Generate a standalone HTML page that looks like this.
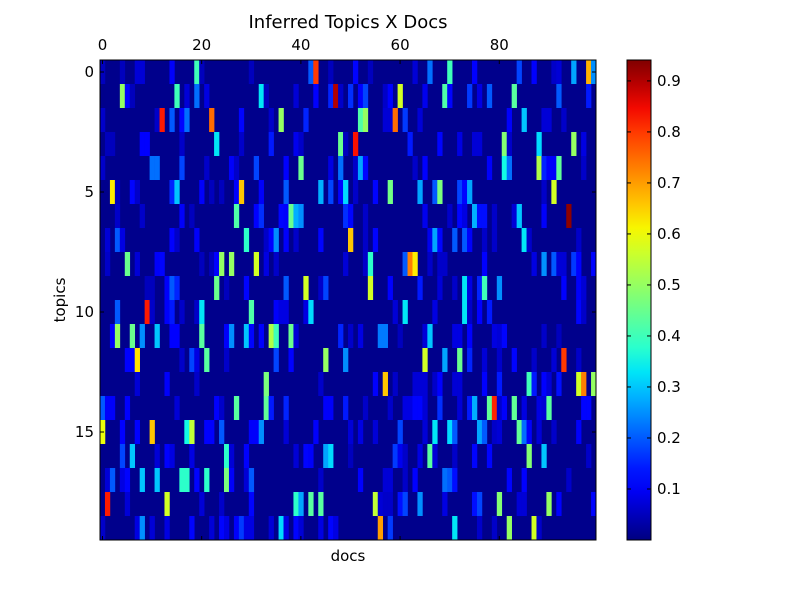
<!DOCTYPE html>
<html><head><meta charset="utf-8"><style>
body{margin:0;background:#fff;}
svg text{font-family:"DejaVu Sans","Liberation Sans",sans-serif;fill:#000;}
</style></head><body>
<svg id="chart" width="800" height="600" xmlns="http://www.w3.org/2000/svg">
<rect width="800" height="600" fill="#fff"/>
<defs><linearGradient id="jet" x1="0" y1="1" x2="0" y2="0"></linearGradient></defs>
<g id="cells"></g>
<g id="axes"></g>
</svg>
<script>
const topicCount = 20;
const docCount = 100;
const baseValue = 0.01;
const xTickValues = [0, 20, 40, 60, 80];
const yTickValues = [0, 5, 10, 15];
const cbTickValues = [0.1, 0.2, 0.3, 0.4, 0.5, 0.6, 0.7, 0.8, 0.9];
// sparse cells per topic: [doc, value]
const topicRows = [
 [[0,.05],[4,.05],[7,.07],[8,.07],[14,.1],[19,.4],[20,.05],[30,.05],[42,.2],[43,.8],[46,.05],[51,.12],[54,.05],[63,.07],[66,.22],[70,.4],[75,.11],[84,.18],[87,.11],[91,.06],[92,.07],[95,.27],[98,.68],[99,.25]],
 [[4,.5],[5,.12],[6,.05],[15,.4],[17,.07],[19,.22],[21,.08],[32,.33],[33,.05],[39,.07],[43,.11],[46,.15],[47,.9],[48,.06],[50,.16],[52,.11],[53,.18],[57,.06],[58,.11],[60,.57],[65,.09],[69,.42],[70,.12],[74,.17],[76,.08],[78,.2],[83,.43],[92,.2],[98,.14]],
 [[0,.06],[11,.06],[12,.83],[14,.2],[16,.12],[17,.22],[22,.75],[28,.12],[34,.06],[36,.5],[41,.15],[52,.42],[53,.5],[57,.07],[58,.07],[59,.75],[61,.17],[64,.07],[82,.1],[85,.3],[89,.07],[90,.07],[93,.06]],
 [[1,.05],[2,.05],[8,.11],[9,.11],[16,.06],[23,.33],[28,.06],[34,.14],[39,.09],[40,.06],[48,.45],[49,.05],[51,.84],[62,.14],[68,.12],[72,.08],[75,.07],[76,.07],[81,.48],[82,.06],[88,.32],[95,.5],[97,.08]],
 [[0,.06],[10,.22],[11,.22],[16,.18],[21,.06],[26,.1],[27,.06],[31,.18],[37,.11],[40,.45],[46,.08],[48,.22],[51,.06],[52,.27],[53,.12],[63,.06],[65,.11],[78,.1],[81,.35],[82,.22],[88,.53],[89,.15],[90,.1],[91,.1],[92,.44],[97,.06]],
 [[2,.62],[3,.05],[6,.12],[7,.06],[14,.15],[15,.3],[20,.1],[22,.05],[24,.05],[27,.1],[28,.66],[32,.1],[37,.2],[44,.28],[46,.18],[48,.12],[49,.32],[51,.06],[55,.12],[58,.46],[64,.27],[67,.2],[68,.47],[72,.18],[73,.12],[74,.27],[89,.06],[91,.57]],
 [[3,.06],[8,.06],[16,.1],[18,.05],[27,.42],[31,.11],[32,.16],[36,.12],[37,.1],[38,.45],[39,.28],[40,.25],[49,.16],[50,.12],[53,.06],[65,.09],[70,.06],[72,.12],[73,.08],[75,.28],[76,.13],[77,.13],[79,.06],[83,.07],[84,.3],[89,.1],[94,.93]],
 [[1,.07],[3,.2],[4,.08],[14,.11],[15,.06],[19,.1],[29,.38],[33,.06],[34,.11],[35,.25],[37,.1],[39,.06],[44,.12],[50,.66],[53,.06],[55,.12],[66,.09],[67,.27],[68,.12],[71,.2],[73,.2],[74,.1],[77,.06],[79,.06],[85,.33],[86,.06],[96,.06]],
 [[1,.06],[5,.45],[7,.07],[11,.1],[12,.12],[20,.05],[22,.05],[23,.11],[24,.5],[26,.5],[31,.57],[33,.08],[35,.06],[49,.07],[53,.06],[54,.38],[61,.2],[62,.73],[63,.62],[66,.06],[68,.06],[69,.06],[77,.11],[87,.08],[89,.25],[91,.2],[92,.07],[93,.07],[95,.17],[96,.11],[99,.12]],
 [[9,.05],[10,.05],[13,.1],[14,.2],[15,.15],[23,.45],[25,.05],[29,.12],[37,.2],[41,.57],[44,.06],[45,.18],[54,.57],[58,.11],[64,.14],[68,.07],[71,.06],[73,.33],[74,.08],[76,.15],[77,.4],[80,.25],[93,.11],[96,.1],[97,.07]],
 [[3,.2],[9,.83],[10,.06],[13,.1],[14,.14],[16,.06],[19,.06],[20,.33],[30,.42],[35,.1],[36,.08],[37,.08],[41,.08],[42,.32],[59,.07],[61,.33],[67,.08],[73,.33],[74,.06],[76,.11],[78,.14],[96,.12],[97,.06]],
 [[2,.1],[3,.5],[6,.45],[8,.25],[11,.3],[14,.11],[15,.11],[20,.43],[25,.1],[26,.25],[29,.3],[30,.12],[32,.11],[34,.53],[35,.4],[38,.45],[39,.07],[48,.15],[50,.06],[52,.08],[56,.23],[57,.23],[60,.05],[65,.07],[66,.3],[71,.08],[72,.08],[74,.11],[79,.08],[80,.07],[81,.12],[89,.06],[92,.05]],
 [[5,.11],[6,.12],[7,.63],[16,.06],[18,.18],[19,.08],[21,.43],[25,.06],[35,.18],[38,.11],[45,.5],[49,.25],[65,.57],[69,.27],[72,.45],[74,.15],[77,.07],[80,.06],[83,.12],[87,.06],[91,.07],[93,.8],[96,.06]],
 [[7,.07],[13,.1],[19,.06],[33,.47],[44,.06],[55,.11],[57,.66],[59,.06],[63,.07],[64,.07],[65,.07],[67,.06],[68,.11],[71,.07],[72,.07],[77,.11],[80,.14],[86,.4],[87,.14],[89,.11],[90,.07],[92,.13],[96,.57],[97,.73],[99,.5]],
 [[0,.2],[1,.1],[2,.1],[5,.11],[15,.07],[23,.11],[24,.06],[27,.43],[33,.44],[34,.14],[37,.15],[45,.1],[46,.1],[49,.14],[53,.06],[58,.06],[61,.08],[62,.08],[63,.12],[64,.12],[65,.07],[68,.16],[72,.07],[74,.14],[75,.28],[78,.44],[79,.82],[80,.06],[81,.1],[83,.44],[85,.08],[88,.08],[89,.07],[90,.43],[97,.12],[98,.12]],
 [[0,.6],[4,.11],[7,.11],[10,.66],[17,.35],[18,.55],[21,.11],[22,.11],[24,.2],[30,.1],[31,.1],[32,.25],[37,.07],[43,.1],[50,.07],[52,.08],[55,.07],[60,.18],[65,.07],[67,.33],[70,.32],[71,.2],[76,.27],[77,.2],[79,.06],[80,.07],[84,.44],[85,.22],[86,.1],[88,.07],[91,.06],[96,.1]],
 [[4,.18],[6,.3],[11,.07],[13,.11],[14,.08],[18,.08],[25,.38],[26,.07],[29,.11],[39,.07],[41,.12],[42,.1],[45,.27],[46,.32],[50,.05],[59,.17],[60,.09],[61,.06],[64,.08],[66,.43],[67,.07],[71,.06],[75,.12],[78,.12],[86,.48],[89,.3],[98,.06]],
 [[1,.07],[2,.2],[4,.08],[5,.12],[8,.3],[11,.3],[16,.38],[17,.38],[19,.12],[21,.38],[25,.47],[26,.1],[29,.07],[30,.2],[44,.06],[52,.11],[57,.07],[58,.07],[61,.06],[63,.11],[69,.22],[70,.2],[71,.13],[82,.12],[85,.11],[94,.06]],
 [[1,.83],[5,.07],[13,.57],[20,.07],[24,.06],[30,.12],[39,.38],[40,.27],[42,.43],[44,.43],[55,.55],[56,.07],[57,.06],[58,.06],[60,.13],[61,.18],[64,.25],[69,.08],[75,.13],[76,.18],[80,.48],[84,.07],[85,.07],[90,.5],[92,.11],[99,.12]],
 [[0,.06],[7,.08],[8,.25],[10,.07],[13,.08],[18,.12],[22,.07],[24,.12],[25,.08],[27,.1],[28,.17],[29,.08],[30,.08],[34,.07],[36,.32],[37,.08],[39,.12],[40,.07],[44,.08],[46,.12],[47,.08],[56,.7],[58,.17],[71,.33],[76,.06],[79,.06],[82,.5],[87,.57],[88,.06]]
];

const NS = "http://www.w3.org/2000/svg";
const PX0 = 100, PX1 = 596, PY0 = 60, PY1 = 540;
const VMIN = 0, VMAX = 0.941;
const CBX = 627, CBW = 24;
function xScale(doc){ return PX0 + (doc + 0.5) * (PX1 - PX0) / docCount; }
function yScale(t){ return PY0 + (t + 0.5) * (PY1 - PY0) / topicCount; }
function cbScale(v){ return PY1 - (v - VMIN) / (VMAX - VMIN) * (PY1 - PY0); }
function interp(pts, x){
  for (let i = 1; i < pts.length; i++) {
    if (x <= pts[i][0]) { const a = pts[i-1], b = pts[i]; return a[1] + (b[1]-a[1]) * (x-a[0]) / (b[0]-a[0]); }
  }
  return pts[pts.length-1][1];
}
function jet(t){
  t = Math.max(0, Math.min(1, t));
  const r = interp([[0,0],[0.35,0],[0.66,1],[0.89,1],[1,0.5]], t);
  const g = interp([[0,0],[0.125,0],[0.375,1],[0.64,1],[0.91,0],[1,0]], t);
  const b = interp([[0,0.5],[0.11,1],[0.34,1],[0.65,0],[1,0]], t);
  return "rgb(" + Math.round(r*255) + "," + Math.round(g*255) + "," + Math.round(b*255) + ")";
}
function colorOf(v){ return jet((v - VMIN) / (VMAX - VMIN)); }
function mk(tag, attrs, parent){ const e = document.createElementNS(NS, tag); for (const k in attrs) e.setAttribute(k, attrs[k]); parent.appendChild(e); return e; }

const cellsG = document.getElementById("cells");
const axesG = document.getElementById("axes");
const cw = (PX1 - PX0) / docCount, ch = (PY1 - PY0) / topicCount;
const bg = mk("rect", {x:PX0, y:PY0, width:PX1-PX0, height:PY1-PY0, fill:colorOf(baseValue)}, cellsG);


topicRows.forEach((row, t) => {
  row.forEach(([d, v]) => {
    const r = mk("rect", {x:(xScale(d)-cw/2).toFixed(2), y:(yScale(t)-ch/2).toFixed(2), width:(cw+0.3).toFixed(2), height:ch, fill:colorOf(v)}, cellsG);
    
    
  });
});
const frame = mk("rect", {x:PX0, y:PY0, width:PX1-PX0, height:PY1-PY0, fill:"none", stroke:"#000", "stroke-width":1}, axesG);


xTickValues.forEach(v => {
  const x = xScale(v);
  mk("line", {x1:x, y1:PY0, x2:x, y2:PY0+4, stroke:"#000"}, axesG);
  mk("line", {x1:x, y1:PY1, x2:x, y2:PY1-4, stroke:"#000"}, axesG);
  const tx = mk("text", {x:x, y:50, "font-size":15, "text-anchor":"middle"}, axesG);
  tx.textContent = v;
  
  
});
yTickValues.forEach(v => {
  const y = yScale(v);
  mk("line", {x1:PX0, y1:y, x2:PX0+4, y2:y, stroke:"#000"}, axesG);
  mk("line", {x1:PX1, y1:y, x2:PX1-4, y2:y, stroke:"#000"}, axesG);
  const tx = mk("text", {x:94, y:y+5, "font-size":15, "text-anchor":"end"}, axesG);
  tx.textContent = v;
  
  
});
const grad = document.getElementById("jet");
for (let i = 0; i <= 20; i++) mk("stop", {offset:(i/20), "stop-color":jet(i/20)}, grad);
const cb = mk("rect", {x:CBX, y:PY0, width:CBW, height:PY1-PY0, fill:"url(#jet)", stroke:"#000"}, axesG);


cbTickValues.forEach(v => {
  const y = cbScale(v);
  mk("line", {x1:CBX, y1:y, x2:CBX+4, y2:y, stroke:"#000"}, axesG);
  mk("line", {x1:CBX+CBW, y1:y, x2:CBX+CBW-4, y2:y, stroke:"#000"}, axesG);
  const tx = mk("text", {x:CBX+CBW+6, y:y+5, "font-size":15}, axesG);
  tx.textContent = v.toFixed(1);
  
  
});
</script>
<svg style="position:absolute;left:0;top:0" width="800" height="600">
<text x="348" y="28" font-size="18" text-anchor="middle">Inferred Topics X Docs</text>
<text x="348" y="561" font-size="15" text-anchor="middle">docs</text>
<text x="65" y="300" font-size="15" text-anchor="middle" transform="rotate(-90 65 300)">topics</text>
</svg>
</body></html>
